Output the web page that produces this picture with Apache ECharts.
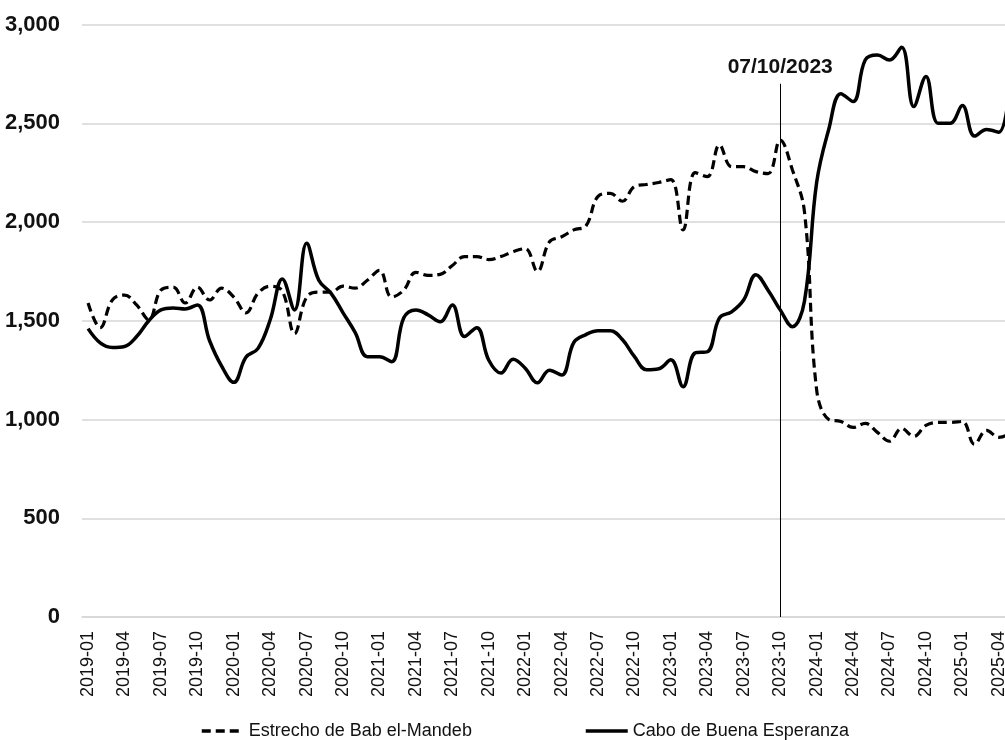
<!DOCTYPE html>
<html>
<head>
<meta charset="utf-8">
<script src="https://cdn.jsdelivr.net/npm/echarts@6/dist/echarts.min.js"></script>
<style>
  html, body { margin: 0; padding: 0; background: #ffffff; overflow: hidden; }
  #chart { width: 1017px; height: 740px; }
</style>
</head>
<body>
<div id="chart"></div>
<script>
const categories = [
  '2019-01','2019-02','2019-03','2019-04','2019-05','2019-06','2019-07','2019-08','2019-09','2019-10','2019-11','2019-12',
  '2020-01','2020-02','2020-03','2020-04','2020-05','2020-06','2020-07','2020-08','2020-09','2020-10','2020-11','2020-12',
  '2021-01','2021-02','2021-03','2021-04','2021-05','2021-06','2021-07','2021-08','2021-09','2021-10','2021-11','2021-12',
  '2022-01','2022-02','2022-03','2022-04','2022-05','2022-06','2022-07','2022-08','2022-09','2022-10','2022-11','2022-12',
  '2023-01','2023-02','2023-03','2023-04','2023-05','2023-06','2023-07','2023-08','2023-09','2023-10','2023-11','2023-12',
  '2024-01','2024-02','2024-03','2024-04','2024-05','2024-06','2024-07','2024-08','2024-09','2024-10','2024-11','2024-12',
  '2025-01','2025-02','2025-03','2025-04','2025-05'
];

const babElMandeb = [
  1590, 1465, 1605, 1630, 1580, 1505, 1655, 1670, 1590, 1670, 1605, 1665,
  1620, 1540, 1640, 1675, 1650, 1435, 1620, 1645, 1645, 1675, 1665, 1705,
  1755, 1620, 1655, 1745, 1730, 1735, 1780, 1825, 1825, 1810, 1825, 1850,
  1865, 1750, 1900, 1925, 1960, 1980, 2130, 2145, 2105, 2180, 2190, 2200,
  2215, 1960, 2250, 2230, 2390, 2280, 2280, 2255, 2245, 2415, 2265, 2050,
  1150, 1000, 990, 960, 980, 935, 890, 955, 915, 970, 985, 985,
  990, 875, 945, 910, 930
];

const caboBuenaEsperanza = [
  1460, 1388, 1365, 1370, 1420, 1500, 1555, 1565, 1560, 1580, 1400, 1270,
  1188, 1315, 1360, 1505, 1712, 1555, 1892, 1705, 1640, 1540, 1440, 1318,
  1318, 1293, 1515, 1555, 1530, 1495, 1580, 1420, 1465, 1300, 1235, 1305,
  1260, 1186, 1250, 1225, 1390, 1430, 1450, 1450, 1405, 1318, 1252, 1257,
  1302, 1166, 1337, 1343, 1515, 1545, 1606, 1733, 1655, 1555, 1470, 1600,
  2200, 2470, 2650, 2610, 2820, 2845, 2820, 2885, 2585, 2737, 2500, 2500,
  2590, 2435, 2468, 2455, 2750
];

const yTicks = { min: 0, max: 3000, interval: 500 };
const eventCategory = '2023-10';
const eventLabel = '07/10/2023';
const eventLineTop = 2700;

const seriesNames = ['Estrecho de Bab el-Mandeb', 'Cabo de Buena Esperanza'];

const FONT = "'Liberation Sans', Arial, sans-serif";
const TXT = '#111111';

const chart = echarts.init(document.getElementById('chart'), null, { renderer: 'canvas' });

const legendCommon = {
  top: 717,
  itemWidth: 42, itemHeight: 20, itemGap: 8,
  itemStyle: { opacity: 0 },
  lineStyle: { width: 3.5 },
  textStyle: { fontFamily: FONT, fontSize: 18, color: TXT }
};

chart.setOption({
  backgroundColor: '#ffffff',
  animation: false,
  textStyle: { fontFamily: FONT, color: TXT },
  grid: { left: 82, top: 24.5, right: 0, height: 592.5, containLabel: false },
  xAxis: {
    type: 'category',
    data: categories,
    boundaryGap: true,
    axisLine: { show: true, lineStyle: { color: '#d6d6d6', width: 1.5 } },
    axisTick: { show: false },
    axisLabel: {
      interval: 2,
      rotate: 90,
      margin: 14,
      fontFamily: FONT,
      fontSize: 18,
      color: TXT
    },
    splitLine: { show: false }
  },
  yAxis: {
    type: 'value',
    min: yTicks.min,
    max: yTicks.max,
    interval: yTicks.interval,
    axisLine: { show: false },
    axisTick: { show: false },
    axisLabel: {
      margin: 22,
      fontFamily: FONT,
      fontSize: 22,
      fontWeight: 'bold',
      color: TXT,
      formatter: v => v.toLocaleString('en-US')
    },
    splitLine: { lineStyle: { color: '#d6d6d6', width: 1.5 } }
  },
  legend: [
    Object.assign({ data: [seriesNames[0]], left: 195 }, legendCommon),
    Object.assign({ data: [seriesNames[1]], left: 579 }, legendCommon)
  ],
  series: [
    {
      name: seriesNames[0],
      type: 'line',
      data: babElMandeb,
      smooth: 0.4,
      symbol: 'none',
      lineStyle: { color: '#000000', width: 3.2, type: [9, 5] },
      itemStyle: { color: '#000000' },
      z: 3
    },
    {
      name: seriesNames[1],
      type: 'line',
      data: caboBuenaEsperanza,
      smooth: 0.4,
      symbol: 'none',
      lineStyle: { color: '#000000', width: 3.5, type: 'solid' },
      itemStyle: { color: '#000000' },
      z: 4,
      markLine: {
        silent: true,
        symbol: 'none',
        lineStyle: { color: '#000000', width: 1, type: 'solid' },
        label: {
          show: true,
          position: 'end',
          formatter: eventLabel,
          fontFamily: FONT,
          fontSize: 21,
          fontWeight: 'bold',
          color: TXT,
          distance: 6
        },
        data: [[
          { coord: [eventCategory, 0] },
          { coord: [eventCategory, eventLineTop] }
        ]]
      }
    }
  ]
});
</script>
</body>
</html>
